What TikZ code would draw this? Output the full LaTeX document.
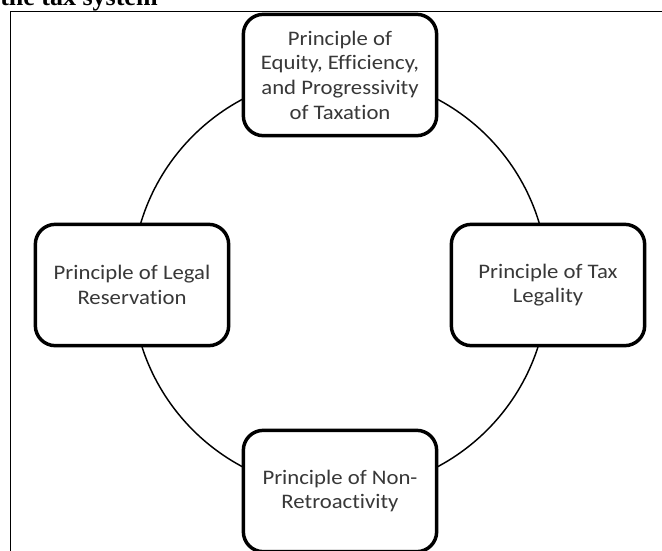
\documentclass[tikz,border=0pt]{standalone}
\usepackage{fontspec}
\setmainfont{Carlito}
\newfontfamily\boxfont[FakeStretch=1.1,Ligatures=NoCommon]{Carlito}
\newfontfamily\titlefont{Liberation Serif}
\begin{document}
\begin{tikzpicture}[x=0.75pt,y=-0.75pt,
  principle/.style={draw=black, line width=2.6pt, fill=white, rounded corners=15pt,
    minimum width=145pt, minimum height=91pt, inner sep=0pt, align=center,
    font=\boxfont\fontsize{15.5pt}{18.5pt}\selectfont, text=black!78},
  ring/.style={draw=black, line width=1.1pt},
  frame/.style={draw=black, line width=0.8pt}]
\path[use as bounding box] (0,0) rectangle (662,551);
\clip (0,0) rectangle (662,551);
\fill[white] (0,0) rectangle (662,551);
% title (cut off at the top)
\node[anchor=base west, inner sep=0pt, font=\titlefont\bfseries\fontsize{19.5pt}{22pt}\selectfont] (title) at (0,5.5) {the tax system};
% frame
\draw[frame] (10.3,600) -- (10.3,11.3) -- (700,11.3);
% ring
\coordinate (c) at (340,283);
\draw[ring] (c) circle [radius=156pt];
% boxes
\node[principle] (top) at (340,75) {Principle of\\Equity, Efficiency,\\and Progressivity\\of Taxation};
\node[principle] (right) at (548,285) {Principle of Tax\\Legality};
\node[principle] (bottom) at (340,491) {Principle of Non-\\Retroactivity};
\node[principle] (left) at (132,285) {Principle of Legal\\Reservation};
\end{tikzpicture}
\end{document}
